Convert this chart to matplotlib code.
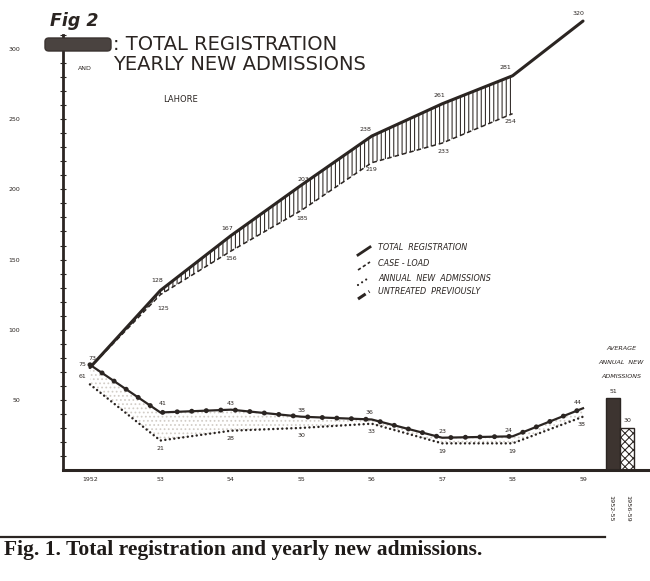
import numpy as np
import matplotlib.pyplot as plt
from matplotlib.lines import Line2D
from matplotlib.patches import FancyBboxPatch

# values
years = [1952, 1953, 1954, 1955, 1956, 1957, 1958, 1959]
year_labels = ["1952", "53", "54", "55", "56", "57", "58", "59"]
total_reg = [73, 128, 167, 203, 238, 261, 281, 320]
case_years = [1952, 1953, 1954, 1955, 1956, 1957, 1958]
case_load = [73, 125, 156, 185, 219, 233, 254]
new_adm = [75, 41, 43, 38, 36, 23, 24, 44]
untreated = [61, 21, 28, 30, 33, 19, 19, 38]
avg_periods = ["1952-55", "1956-59"]
avg_new_adm = [51, 30]
y_ticks = [50, 100, 150, 200, 250, 300]
legend_labels = ["TOTAL  REGISTRATION", "CASE - LOAD",
                 "ANNUAL  NEW  ADMISSIONS", "UNTREATED  PREVIOUSLY"]

ink = "#2b2522"
W, H = 650, 581
plt.rcParams["hatch.linewidth"] = 0.75

fig = plt.figure(figsize=(6.5, 5.81), dpi=100)
fig.patch.set_facecolor("white")


def fx(px):
    return px / W


def fy(py):
    return 1 - py / H


ax = fig.add_axes([fx(63), 111 / H, 587 / W, 470 / H])
ax.set_xlim(1951.617, 1959.951)
ax.set_ylim(0, 335)

# hatched band between total registration and case-load
ax.fill_between(case_years, case_load, total_reg[:len(case_years)], facecolor="none",
                edgecolor=ink, hatch="||||", lw=0)
ax.plot(case_years, case_load, color=ink, lw=1.1, ls=(0, (3, 2)))
ax.plot(years, total_reg, color=ink, lw=2.2, solid_capstyle="round")

# lower pair of lines
ax.fill_between(years, new_adm, untreated, facecolor="none",
                edgecolor="#d2cdc7", hatch="....", lw=0)
ax.plot(years, new_adm, color=ink, lw=1.6)
ax.plot(years, new_adm, color=ink, lw=3.6, ls=(0, (0.01, 2.9)), dash_capstyle="round")
ax.plot(years, untreated, color=ink, lw=1.8, ls=(0, (0.01, 1.8)), dash_capstyle="round")

# average bars on the right
bar_x = [1959.426, 1959.625]
ax.bar(bar_x[0], avg_new_adm[0], width=0.2, color="#3d3430", edgecolor=ink, lw=1)
ax.bar(bar_x[1], avg_new_adm[1], width=0.2, facecolor="white", edgecolor=ink,
       hatch="xxxx", lw=1)
for bx, v in zip(bar_x, avg_new_adm):
    ax.annotate(str(v), (bx, v), xytext=(0, 7), textcoords="offset pixels",
                ha="center", va="center", fontsize=4.5, color=ink)

# value labels (offsets in pixels)
tot_off = [(2, 9), (-3, 10), (-4, 7), (2, 6), (-6, 7), (-3, 8), (-7, 8), (-5, 8)]
for x, v, o in zip(years, total_reg, tot_off):
    ax.annotate(str(v), (x, v), xytext=o, textcoords="offset pixels",
                ha="center", va="center", fontsize=4.5, color=ink)
case_off = [None, (3, -14), (0, -7), (1, -8), (0, -7), (1, -8), (-2, -8)]
for x, v, o in zip(case_years, case_load, case_off):
    if o is None:
        continue
    ax.annotate(str(v), (x, v), xytext=o, textcoords="offset pixels",
                ha="center", va="center", fontsize=4.5, color=ink)
adm_off = [(-8, 0), (2, 9), (0, 6), (0, 6), (-2, 7), (0, 6), (-4, 6), (-5, 6)]
for x, v, o in zip(years, new_adm, adm_off):
    ax.annotate(str(v), (x, v), xytext=o, textcoords="offset pixels",
                ha="center", va="center", fontsize=4.5, color=ink)
unt_off = [(-7, 8), (0, -8), (0, -8), (0, -8), (0, -8), (0, -8), (0, -8), (-2, -8)]
for x, v, o in zip(years, untreated, unt_off):
    ax.annotate(str(v), (x, v), xytext=o, textcoords="offset pixels",
                ha="center", va="center", fontsize=4.5, color=ink)

# axes styling
for s in ["top", "right"]:
    ax.spines[s].set_visible(False)
ax.spines["bottom"].set_linewidth(2.2)
ax.spines["bottom"].set_color(ink)
ax.spines["left"].set_linewidth(2.0)
ax.spines["left"].set_color(ink)
ax.spines["left"].set_bounds(0, 310)

ax.set_yticks(y_ticks)
ax.set_yticklabels([str(t) for t in y_ticks])
ax.set_yticks(np.arange(10, 311, 10), minor=True)
ax.tick_params(axis="y", which="both", direction="inout", length=4, width=0.8,
               color=ink, labelsize=4.5, pad=29, labelcolor=ink)
ax.set_xticks(years)
ax.set_xticklabels(year_labels)
ax.tick_params(axis="x", length=0, labelsize=4.5, pad=5, labelcolor=ink)

# titles
fig.text(fx(50), fy(21), "Fig 2", fontsize=12.5, fontweight="bold", style="italic",
         color=ink, va="center")
fig.patches.append(FancyBboxPatch((fx(45), fy(51)), fx(66), 13 / H,
                                  boxstyle="round,pad=0,rounding_size=0.006",
                                  transform=fig.transFigure, facecolor="#4a4340",
                                  edgecolor="#3a3330", lw=1))
fig.text(fx(113), fy(44), ": TOTAL REGISTRATION", fontsize=14, color=ink, va="center")
fig.text(fx(78), fy(68), "AND", fontsize=4.5, color=ink, va="center")
fig.text(fx(113), fy(64), "YEARLY NEW ADMISSIONS", fontsize=14, color=ink, va="center")
fig.text(fx(163), fy(100), "LAHORE", fontsize=6, color=ink, va="center")

# hand-made legend
leg_y = [248, 263, 278, 292]
leg_styles = [dict(lw=2.0, ls="-"),
              dict(lw=1.2, ls=(0, (2, 1.5))),
              dict(lw=1.6, ls=(0, (0.01, 2.2)), dash_capstyle="round"),
              dict(lw=2.2, ls=(0, (3, 1.2, 0.3, 1.2)))]
for y, lab, st in zip(leg_y, legend_labels, leg_styles):
    fig.add_artist(Line2D([fx(358), fx(370)], [fy(y + 7), fy(y - 1)],
                          transform=fig.transFigure, color=ink, **st))
    fig.text(fx(378), fy(y), lab, fontsize=5.8, style="italic", color=ink, va="center")

# average admissions note
for y, t in zip([348, 362, 376], ["AVERAGE", "ANNUAL  NEW", "ADMISSIONS"]):
    fig.text(fx(621), fy(y), t, fontsize=4.6, style="italic", color=ink,
             ha="center", va="center")
for px, t in zip([611, 628], avg_periods):
    fig.text(fx(px), fy(508), t, fontsize=4.6, rotation=270, color=ink,
             ha="center", va="center")

# caption
fig.add_artist(Line2D([0, fx(605)], [fy(537), fy(537)], transform=fig.transFigure,
                      color=ink, lw=1.6))
fig.text(fx(4), fy(550), "Fig. 1. Total registration and yearly new admissions.",
         fontsize=15.5, fontweight="bold", family="Liberation Serif", color="#1e1a18",
         va="center")

fig.savefig("out.png", dpi=100)
